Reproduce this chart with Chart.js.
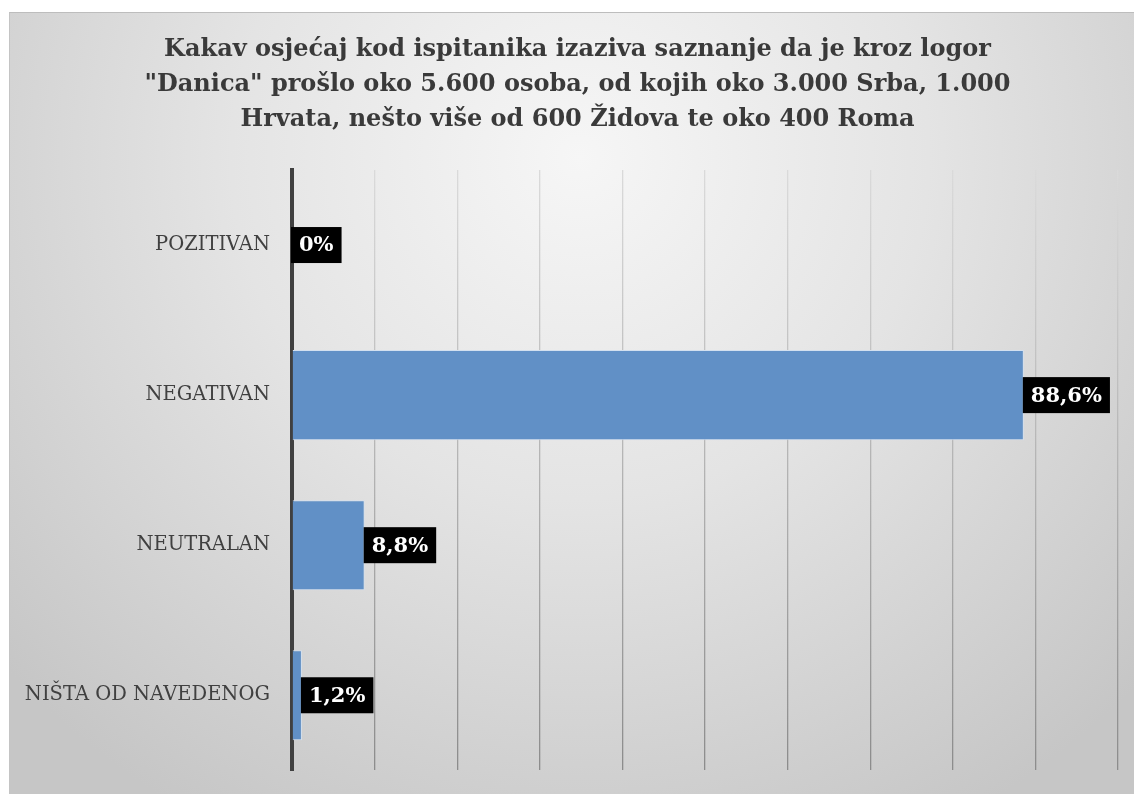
<!DOCTYPE html>
<html>
<head>
<meta charset="utf-8">
<script src="https://cdn.jsdelivr.net/npm/chart.js@4/dist/chart.umd.min.js"></script>
<style>
	html, body { margin: 0; padding: 0; background: #fff; overflow: hidden; }
	#frame {
		position: absolute; left: 9px; top: 12px; width: 1140px; height: 800px;
		border-top: 1px solid #bdbdbd; border-left: 1px solid #c4c4c4;
		background: radial-gradient(ellipse 68% 95% at 50% 18%, #f6f6f6 0%, #e4e4e4 45%, #c6c6c6 100%);
	}
	#chart_container { position: absolute; left: 0; top: 0; width: 1135px; height: 791px; }
</style>
</head>
<body>
<div id="frame">
	<div id="chart_container"><canvas id="osjecaj"></canvas></div>
</div>
<script>
var titleLines = [
	'Kakav osjećaj kod ispitanika izaziva saznanje da je kroz logor',
	'"Danica" prošlo oko 5.600 osoba, od kojih oko 3.000 Srba, 1.000',
	'Hrvata, nešto više od 600 Židova te oko 400 Roma'
];
var labels = ['POZITIVAN', 'NEGATIVAN', 'NEUTRALAN', 'NIŠTA OD NAVEDENOG'];
var postotci = [0, 88.6, 8.8, 1.2];
var xTicks = [0, 10, 20, 30, 40, 50, 60, 70, 80, 90, 100];

// naslov centriran na cijelu sliku (ne na prostor grafa)
var naslov = {
	id: 'naslov',
	afterDraw: function(chart){
		var ctx = chart.ctx;
		ctx.save();
		ctx.font = 'bold 24px "DejaVu Serif", serif';
		ctx.fillStyle = '#3a3a3a';
		ctx.textAlign = 'center';
		ctx.textBaseline = 'middle';
		for(var i = 0; i < titleLines.length; i++){
			ctx.fillText(titleLines[i], chart.width / 2, 36.5 + i * 35);
		}
		ctx.restore();
	}
};

// crne oznake s vrijednostima desno od stupca
var oznake = {
	id: 'oznake',
	afterDatasetsDraw: function(chart){
		var ctx = chart.ctx;
		var meta = chart.getDatasetMeta(0);
		ctx.save();
		ctx.font = 'bold 21px "DejaVu Serif", serif';
		ctx.textBaseline = 'middle';
		ctx.textAlign = 'left';
		for(var i = 0; i < meta.data.length; i++){
			var bar = meta.data[i];
			var txt = String(postotci[i]).replace('.', ',') + '%';
			var w = ctx.measureText(txt).width + 16;
			var h = 36;
			var x = bar.x - 1;
			ctx.fillStyle = '#000';
			ctx.fillRect(x, bar.y - h / 2, w, h);
			ctx.fillStyle = '#fff';
			ctx.fillText(txt, x + 8, bar.y + 1);
		}
		ctx.restore();
	}
};

var ctx = document.getElementById('osjecaj').getContext('2d');
var myChart = new Chart(ctx, {
	type: 'bar',
	data: {
		labels: labels,
		datasets: [{
			data: postotci,
			backgroundColor: '#6190c6',
			borderColor: '#d3e0ef',
			borderWidth: 1,
			barPercentage: 0.6,
			categoryPercentage: 1
		}]
	},
	options: {
		indexAxis: 'y',
		responsive: true,
		maintainAspectRatio: false,
		animation: false,
		layout: { padding: { left: 0, right: 27, top: 157, bottom: 16 } },
		plugins: {
			legend: { display: false },
			tooltip: { enabled: false },
			title: { display: false }
		},
		scales: {
			x: {
				min: 0,
				max: 100,
				afterBuildTicks: function(scale){
					scale.ticks = xTicks.map(function(v){ return { value: v }; });
				},
				afterFit: function(scale){ scale.height = 0; },
				ticks: { display: false },
				border: { display: false },
				grid: {
					drawTicks: false,
					lineWidth: 1.3,
					color: function(c){
						var ch = c.chart;
						if(!ch.chartArea) return '#bbb';
						var g = ch.ctx.createLinearGradient(0, ch.chartArea.top, 0, ch.chartArea.bottom);
						g.addColorStop(0, '#dadada');
						g.addColorStop(1, '#8c8c8c');
						return g;
					}
				}
			},
			y: {
				afterFit: function(scale){ scale.width = 282; },
				grid: { display: false, drawTicks: false },
				border: { display: true, color: '#404040', width: 4 },
				ticks: {
					color: '#404040',
					padding: 22,
					font: { family: '"DejaVu Serif", serif', size: 19.5 }
				}
			}
		}
	},
	plugins: [oznake, naslov]
});
</script>
</body>
</html>
